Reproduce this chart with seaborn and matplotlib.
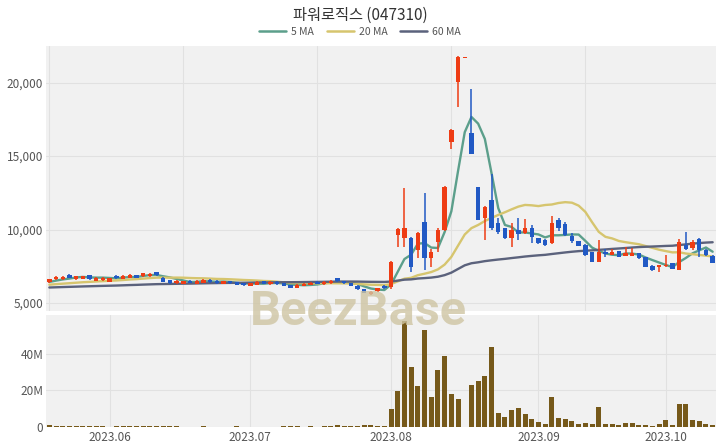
import numpy as np
import pandas as pd
import matplotlib
matplotlib.use("Agg")
import matplotlib.pyplot as plt
from matplotlib.lines import Line2D
from matplotlib.ticker import FuncFormatter, FixedLocator, MultipleLocator
import seaborn as sns

# ---------------- data ----------------
title = "파워로직스 (047310)"
start_date = "2023-05-18"
holidays = ["2023-05-29", "2023-06-06", "2023-08-15", "2023-09-28",
            "2023-09-29", "2023-10-03", "2023-10-09"]

open_ = [6400, 6600, 6620, 6900, 6620, 6640, 6880, 6520, 6540, 6450,
         6850, 6650, 6720, 6880, 6820, 6820, 7100, 6700, 6550, 6330,
         6300, 6520, 6320, 6380, 6580, 6500, 6300, 6480, 6400, 6330,
         6180, 6250, 6460, 6280, 6440, 6330, 6220, 6030, 6150, 6230,
         6440, 6280, 6350, 6680, 6480, 6350, 6180, 5950, 5580, 5800,
         6160, 6110, 9630, 9400, 9400, 8610, 10530, 8040, 9170, 9970,
         15980, 20070, 21680, 16550, 12920, 10770, 12010, 10430, 10085, 9400,
         10000, 9740, 10085, 9400, 9300, 9060, 10650, 10380, 9560, 9220,
         8950, 8450, 7810, 8500, 8270, 8540, 8200, 8220, 8380, 8110,
         7520, 7450, 7500, 7700, 7250, 8950, 8720, 9335, 8610, 8200]

close = [6620, 6780, 6780, 6700, 6800, 6800, 6620, 6700, 6700, 6680,
         6680, 6850, 6900, 6720, 7020, 7000, 6880, 6450, 6330, 6500,
         6480, 6360, 6500, 6560, 6420, 6350, 6470, 6340, 6250, 6200,
         6350, 6420, 6320, 6450, 6280, 6150, 6050, 6220, 6320, 6380,
         6320, 6440, 6520, 6480, 6330, 6180, 5930, 5700, 5760, 5990,
         6010, 7800, 10050, 10100, 7470, 9740, 8040, 8490, 9970, 12920,
         16780, 21770, 21720, 15140, 10650, 11560, 10085, 9850, 9400, 9970,
         9700, 10085, 9510, 9060, 8950, 10430, 10085, 9630, 9240, 8900,
         8270, 7810, 8490, 8350, 8490, 8110, 8420, 8420, 8040, 7470,
         7250, 7580, 7600, 7310, 9170, 8650, 9170, 8610, 8270, 7740]

high = [6660, 6820, 6820, 6940, 6840, 6840, 6920, 6740, 6740, 6720,
        6880, 6890, 6940, 6920, 7060, 7040, 7130, 6740, 6580, 6540,
        6520, 6560, 6540, 6600, 6620, 6540, 6510, 6520, 6430, 6360,
        6390, 6460, 6500, 6490, 6480, 6370, 6250, 6260, 6360, 6420,
        6480, 6480, 6560, 6720, 6520, 6390, 6210, 5980, 5800, 6030,
        6200, 7880, 10100, 12810, 9510, 9850, 12470, 8655, 10085, 12950,
        16830, 21800, 21750, 19550, 12920, 11600, 13780, 10800, 10100, 10420,
        10770, 10700, 10300, 9450, 9350, 10900, 10800, 10500, 9740, 9250,
        9000, 8500, 9290, 8650, 8650, 8560, 8790, 8720, 8400, 8150,
        7580, 7600, 8260, 7750, 9335, 9850, 9290, 9400, 8650, 8250]

low = [6360, 6570, 6590, 6670, 6590, 6610, 6590, 6490, 6510, 6420,
       6650, 6620, 6690, 6690, 6790, 6790, 6850, 6420, 6300, 6300,
       6270, 6330, 6290, 6350, 6390, 6320, 6270, 6310, 6220, 6170,
       6150, 6220, 6290, 6250, 6250, 6120, 6020, 6000, 6120, 6200,
       6290, 6250, 6320, 6450, 6300, 6150, 5900, 5670, 5540, 5770,
       5980, 5970, 8830, 8830, 7130, 8040, 7250, 7470, 8490, 9900,
       15490, 18320, 21650, 15140, 10650, 9290, 10000, 9700, 9350, 8830,
       9290, 9700, 9100, 9000, 8900, 9000, 9900, 9550, 9100, 8850,
       8200, 7780, 7780, 8150, 8250, 8100, 8180, 8200, 7970, 7430,
       7200, 7130, 7450, 7290, 7250, 8610, 8610, 8110, 8200, 7700]

# volume in millions of shares
volume_m = [0.9, 0.6, 0.5, 0.7, 0.5, 0.4, 0.6, 0.4, 0.3, 0.25,
            0.3, 0.3, 0.35, 0.3, 0.4, 0.35, 0.4, 0.5, 0.4, 0.3,
            0.25, 0.2, 0.25, 0.3, 0.2, 0.2, 0.25, 0.2, 0.3, 0.25,
            0.2, 0.25, 0.2, 0.25, 0.2, 0.3, 0.35, 0.3, 0.25, 0.3,
            0.25, 0.3, 0.6, 0.9, 0.5, 0.6, 0.8, 1.0, 0.9, 0.8,
            0.7, 10.0, 19.4, 58.0, 32.6, 22.3, 52.6, 16.3, 30.8, 38.6,
            18.1, 15.4, 0.0, 22.7, 24.8, 27.7, 43.5, 7.8, 5.4, 9.1,
            10.3, 7.3, 4.6, 2.7, 1.8, 16.3, 5.1, 4.2, 3.1, 1.5,
            2.2, 1.8, 10.9, 1.8, 1.8, 1.3, 2.4, 2.2, 1.3, 1.3,
            0.8, 1.5, 3.6, 1.3, 12.3, 12.3, 3.6, 3.4, 1.6, 1.3]

# closes before the visible window (estimated from where the MA lines start)
pre_close = [5900, 5850, 5880, 5950, 5920, 5870, 5900, 5960, 6010, 5980,
             5930, 5890, 5920, 5980, 6040, 6000, 5950, 5910, 5940, 5990,
             6030, 5990, 5940, 5900, 5930, 5970, 6010, 5980, 5940, 5900,
             5920, 5960, 6000, 6020, 5980, 5950, 5970, 6010, 6040, 6000,
             6050, 6100, 6080, 6130, 6160, 6120, 6180, 6220, 6200, 6250,
             6230, 6190, 6240, 6280, 6260, 6320, 6380, 6400, 6420]

ma_windows = [5, 20, 60]
ma_labels = ["5 MA", "20 MA", "60 MA"]

# ---------------- styling ----------------
sns.set_style("white")
plt.rcParams['font.family'] = ['Noto Sans CJK KR', 'DejaVu Sans']

up_color = "#ee3c14"
down_color = "#2159c4"
vol_color = "#76591a"
ma_colors = ["#5c9f8b", "#d6c56e", "#5b627c"]
bg = "#f1f1f1"
grid = "#e1e1e1"
text_c = "#555555"

n = len(close)
idx = np.arange(n)
o = np.array(open_, float)
c = np.array(close, float)
h = np.array(high, float)
l = np.array(low, float)
vol = np.array(volume_m, float) * 1e6

dates = pd.bdate_range(start=start_date, periods=n + 10, freq="C",
                       holidays=holidays)[:n]
months = pd.Series(dates.month)
tick_pos = list(np.where(months.diff().fillna(0).to_numpy() != 0)[0])
tick_lab = [dates[i].strftime("%Y.%m") for i in tick_pos]

full = pd.Series(pre_close + close, dtype=float)
ma_vals = {lab: full.rolling(w).mean().iloc[len(pre_close):].to_numpy()
           for w, lab in zip(ma_windows, ma_labels)}
df_ma = pd.DataFrame({
    "idx": np.tile(idx, len(ma_labels)),
    "value": np.concatenate([ma_vals[lab] for lab in ma_labels]),
    "series": np.repeat(ma_labels, n),
})

fig = plt.figure(figsize=(7.2, 4.48), dpi=100)
W, H = 720, 448
axL, axR = 46, 716
p_top, p_bot = 46.5, 311
v_top, v_bot = 315, 427
ax_p = fig.add_axes([axL / W, 1 - p_bot / H, (axR - axL) / W, (p_bot - p_top) / H])
ax_v = fig.add_axes([axL / W, 1 - v_bot / H, (axR - axL) / W, (v_bot - v_top) / H])

for ax in (ax_p, ax_v):
    ax.set_facecolor(bg)
    for s in ax.spines.values():
        s.set_visible(False)
    ax.set_xlim(-0.5, n - 0.5)
    ax.tick_params(length=0, labelsize=8.5, labelcolor=text_c, pad=2)
    ax.set_axisbelow(True)
    ax.grid(True, color=grid, linewidth=0.8)

sns.lineplot(data=df_ma, x="idx", y="value", hue="series",
             hue_order=ma_labels, palette=ma_colors, linewidth=1.7,
             legend=False, ax=ax_p, zorder=2)

# candles (drawn over the MA lines)
up = c >= o
colors = np.where(up, up_color, down_color)
ax_p.vlines(idx, l, h, colors=colors, linewidth=1.1, zorder=4)
body_low = np.minimum(o, c)
body_h = np.maximum(np.abs(c - o), 60)
ax_p.bar(idx, body_h, bottom=body_low, width=0.66, color=colors,
         linewidth=0, zorder=4)

ax_p.set_xlabel("")
ax_p.set_ylabel("")
ax_p.set_ylim(4450, 22465)
ax_p.yaxis.set_major_locator(FixedLocator([5000, 10000, 15000, 20000]))
ax_p.yaxis.set_major_formatter(FuncFormatter(lambda v, p: f"{int(v):,}"))
ax_p.xaxis.set_major_locator(MultipleLocator(20))
ax_p.tick_params(axis="x", labelbottom=False)

# volume
ax_v.bar(idx, vol, width=0.74, color=vol_color, linewidth=0, zorder=2)
ax_v.set_ylim(0, 61e6)
ax_v.yaxis.set_major_locator(FixedLocator([0, 20e6, 40e6]))
ax_v.yaxis.set_major_formatter(FuncFormatter(
    lambda v, p: "0" if v == 0 else f"{int(v / 1e6)}M"))
ax_v.xaxis.set_major_locator(FixedLocator(tick_pos))
ax_v.set_xticklabels(tick_lab)
ax_v.tick_params(axis="x", pad=3)

# title & legend
fig.text(0.5, 1 - 15 / H, title, ha="center", va="center", fontsize=11,
         color="#333333")
handles = [Line2D([0], [0], color=col, lw=1.8) for col in ma_colors]
leg = fig.legend(handles, ma_labels, loc="center", ncol=3, frameon=False,
                 bbox_to_anchor=(0.5, 1 - 32 / H), fontsize=7.5,
                 handlelength=2.6, handletextpad=0.5, columnspacing=1.2)
for t in leg.get_texts():
    t.set_color(text_c)

# watermark
fig.text(358 / W, 1 - 312 / H, "BeezBase", ha="center", va="center",
         fontsize=35, fontweight="bold", family=["Roboto", "DejaVu Sans"],
         color="#cfc5a3", alpha=0.8, zorder=10)

fig.savefig("out.png", dpi=100)
